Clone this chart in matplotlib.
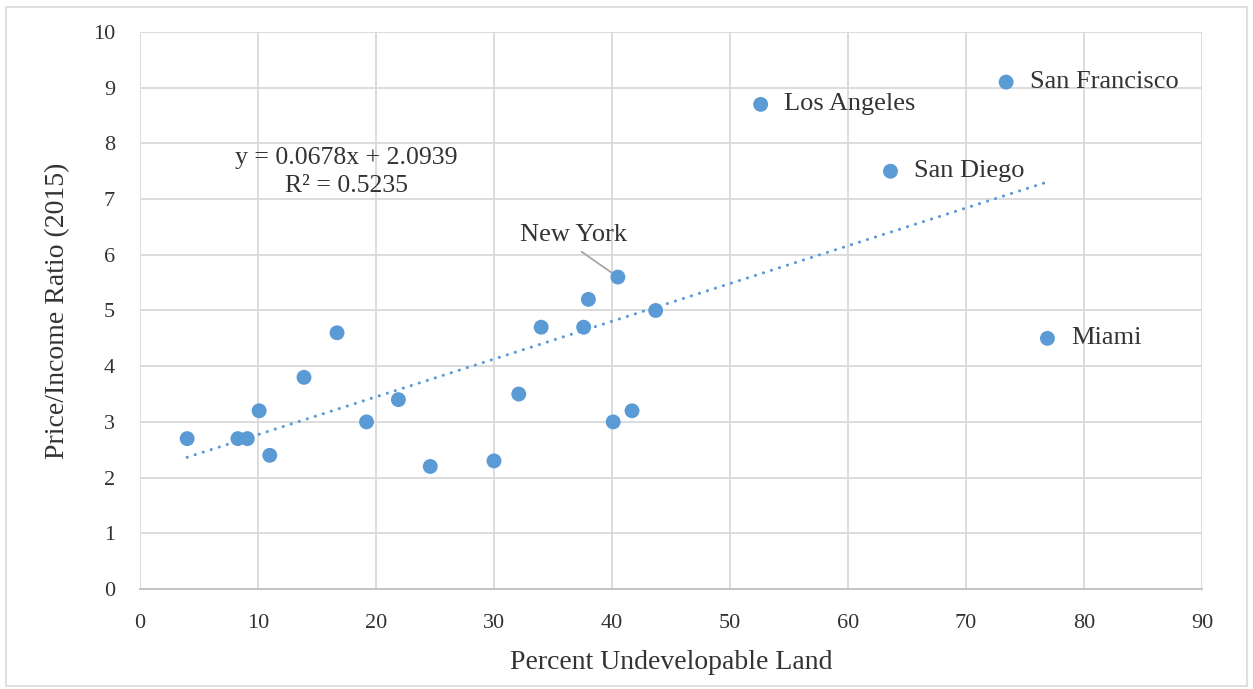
import matplotlib.pyplot as plt
from matplotlib.patches import Rectangle
import numpy as np

# percent undevelopable land vs price/income ratio (2015)
land_pct = [4.0, 8.3, 9.1, 10.1, 11.0, 13.9, 16.7, 19.2, 21.9, 24.6, 30.0, 32.1,
            34.0, 37.6, 38.0, 40.1, 41.7, 43.7, 40.5, 52.6, 63.6, 73.4, 76.9]
price_income = [2.7, 2.7, 2.7, 3.2, 2.4, 3.8, 4.6, 3.0, 3.4, 2.2, 2.3, 3.5,
                4.7, 4.7, 5.2, 3.0, 3.2, 5.0, 5.6, 8.7, 7.5, 9.1, 4.5]

# labelled cities (plain labels to the right of the point)
city_names = ['Los Angeles', 'San Diego', 'San Francisco', 'Miami']
city_x = [52.6, 63.6, 73.4, 76.9]
city_y = [8.7, 7.5, 9.1, 4.5]

ny_x, ny_y = 40.5, 5.6

# linear trendline from the chart
slope = 0.0678
intercept = 2.0939
r2 = 0.5235

plt.rcParams['font.family'] = ['Liberation Serif', 'DejaVu Serif']

blue = '#5b9bd5'
grid_c = '#d9d9d9'
text_c = '#333333'

fig = plt.figure(figsize=(12.53, 6.89), dpi=100)
fig.patches.append(Rectangle((0.005, 0.005), 0.99, 0.985, transform=fig.transFigure,
                             fill=False, edgecolor='#d9d9d9', linewidth=1.2))
ax = fig.add_axes([0.1117, 0.1451, 0.8476, 0.8085])

# trendline
xt = np.array([min(land_pct), max(land_pct)])
ax.plot(xt, slope * xt + intercept, color=blue, linewidth=2.2,
        linestyle=(0, (0.05, 2.7)), dash_capstyle='round', zorder=3)

ax.scatter(land_pct, price_income, s=115, color=blue, edgecolors='none', zorder=4)

for name, x, y in zip(city_names, city_x, city_y):
    ax.annotate(name, (x, y), xytext=(17, 0), textcoords='offset points',
                ha='left', va='center', fontsize=19, color=text_c)

ax.annotate('New York', (ny_x, ny_y), xytext=(36.7, 6.36), textcoords='data',
            ha='center', va='center', fontsize=19, color=text_c,
            arrowprops=dict(arrowstyle='-', color='#a6a6a6', linewidth=1.3,
                            relpos=(0.5, 0), shrinkA=4, shrinkB=0))

ax.text(17.5, 7.48, f'y = {slope}x + {intercept}\nR² = {r2}', ha='center', va='center',
        fontsize=18.5, color=text_c, linespacing=1.35)

ax.set_xlim(0, 90)
ax.set_ylim(0, 10)
ax.set_xticks(np.arange(0, 91, 10))
ax.set_yticks(np.arange(0, 11, 1))
ax.grid(True, color=grid_c, linewidth=1.3)
ax.set_axisbelow(True)
for side in ['left', 'right', 'top']:
    ax.spines[side].set_visible(False)
ax.spines['bottom'].set_color('#bfbfbf')
ax.spines['bottom'].set_linewidth(1.3)
ax.tick_params(length=0, labelsize=16, colors=text_c, pad=18)

ax.set_xlabel('Percent Undevelopable Land', fontsize=20, color=text_c, labelpad=12)
ax.set_ylabel('Price/Income Ratio (2015)', fontsize=20, color=text_c, labelpad=16)

fig.savefig('out.png', dpi=100)
